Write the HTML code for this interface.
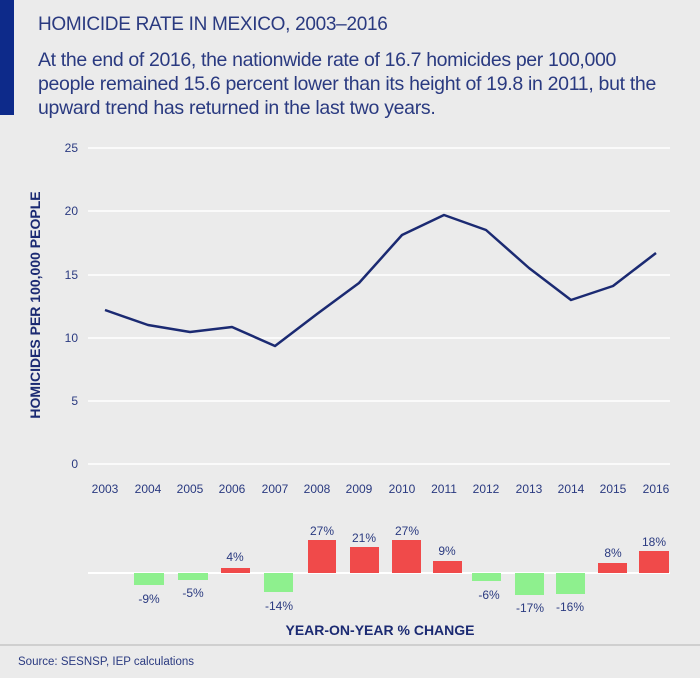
<!DOCTYPE html>
<html><head><style>
body{margin:0;background:#ebebeb;}
</style></head><body>
<svg width="700" height="678" xmlns="http://www.w3.org/2000/svg" style="display:block;font-family:'Liberation Sans',sans-serif">
<rect width="700" height="678" fill="#ebebeb"/>
<rect x="0" y="0" width="14" height="115" fill="#0d2a8a"/>
<text x="38" y="30" font-size="19" fill="#2a3a80" letter-spacing="-0.3">HOMICIDE RATE IN MEXICO, 2003–2016</text>
<g font-size="19.5" fill="#2a3a80" letter-spacing="-0.3">
<text x="38" y="66" textLength="578">At the end of 2016, the nationwide rate of 16.7 homicides per 100,000</text>
<text x="38" y="90" textLength="618">people remained 15.6 percent lower than its height of 19.8 in 2011, but the</text>
<text x="38" y="114">upward trend has returned in the last two years.</text>
</g>
<g stroke="#ffffff" stroke-width="1.5">
<line x1="88" x2="670" y1="148" y2="148"/><line x1="88" x2="670" y1="211" y2="211"/>
<line x1="88" x2="670" y1="275" y2="275"/><line x1="88" x2="670" y1="338" y2="338"/>
<line x1="88" x2="670" y1="401" y2="401"/><line x1="88" x2="670" y1="464" y2="464"/>
</g>
<g font-size="12" fill="#2a3a80" text-anchor="end">
<text x="78" y="152">25</text><text x="78" y="215">20</text><text x="78" y="279">15</text>
<text x="78" y="342">10</text><text x="78" y="405">5</text><text x="78" y="468">0</text>
</g>
<text transform="translate(40,305) rotate(-90)" font-size="14" font-weight="bold" fill="#1b2a72" text-anchor="middle">HOMICIDES PER 100,000 PEOPLE</text>
<polyline fill="none" stroke="#1b2a72" stroke-width="2.5" stroke-linejoin="round"
points="105,310 148,325 190,332 232,327 275,346 317,314 359,283 402,235 444,215 486,230 529,268 571,300 613,286 656,253"/>
<g font-size="12" fill="#2a3a80" text-anchor="middle">
<text x="105" y="493">2003</text><text x="148" y="493">2004</text><text x="190" y="493">2005</text><text x="232" y="493">2006</text><text x="275" y="493">2007</text><text x="317" y="493">2008</text><text x="359" y="493">2009</text><text x="402" y="493">2010</text><text x="444" y="493">2011</text><text x="486" y="493">2012</text><text x="529" y="493">2013</text><text x="571" y="493">2014</text><text x="613" y="493">2015</text><text x="656" y="493">2016</text>
</g>
<line x1="88" x2="670" y1="573" y2="573" stroke="#fff" stroke-width="2"/>
<g fill="#8ef08e">
<rect x="134" y="573" width="30" height="12"/><rect x="178" y="573" width="30" height="7"/>
<rect x="264" y="573" width="29" height="19"/><rect x="472" y="573" width="29" height="8"/>
<rect x="515" y="573" width="29" height="22"/><rect x="556" y="573" width="29" height="21"/>
</g>
<g fill="#f04a4a">
<rect x="221" y="568" width="29" height="5"/><rect x="308" y="540" width="28" height="33"/>
<rect x="350" y="547" width="29" height="26"/><rect x="392" y="540" width="29" height="33"/>
<rect x="433" y="561" width="29" height="12"/><rect x="598" y="563" width="29" height="10"/>
<rect x="639" y="551" width="30" height="22"/>
</g>
<g font-size="12" fill="#2a3a80" text-anchor="middle">
<text x="149" y="603">-9%</text><text x="193" y="597">-5%</text><text x="235" y="561">4%</text>
<text x="279" y="610">-14%</text><text x="322" y="535">27%</text><text x="364" y="542">21%</text>
<text x="407" y="535">27%</text><text x="447" y="555">9%</text><text x="489" y="599">-6%</text>
<text x="530" y="612">-17%</text><text x="570" y="611">-16%</text><text x="613" y="557">8%</text>
<text x="654" y="546">18%</text>
</g>
<text x="380" y="635" font-size="14" font-weight="bold" fill="#1b2a72" text-anchor="middle">YEAR-ON-YEAR % CHANGE</text>
<line x1="0" x2="700" y1="645" y2="645" stroke="#cfcfcf" stroke-width="2"/>
<text x="18" y="665" font-size="11.5" fill="#2a3a80">Source: SESNSP, IEP calculations</text>
</svg>
</body></html>
